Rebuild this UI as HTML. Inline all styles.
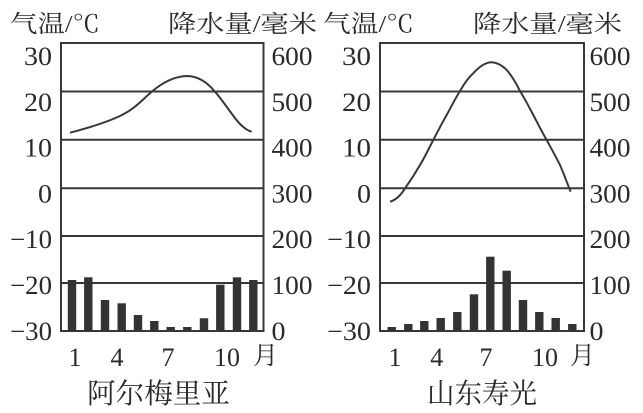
<!DOCTYPE html>
<html><head><meta charset="utf-8"><style>
html,body{margin:0;padding:0;background:#fff;}
svg{display:block;}
.n{font-family:"Liberation Serif",serif;font-size:26px;fill:#2a2a2a;}
.c{font-family:"Liberation Serif","Noto Serif CJK SC",serif;font-size:24px;fill:#2a2a2a;}
.s{font-family:"Liberation Serif","Noto Serif CJK SC",serif;font-size:28px;fill:#2a2a2a;}
</style></head><body>
<svg width="643" height="413" viewBox="0 0 643 413" xmlns="http://www.w3.org/2000/svg">
<rect width="643" height="413" fill="#fff"/>
<g stroke="#383838" stroke-width="2" fill="none">
<rect x="61" y="43" width="202.5" height="288"/>
<line x1="61" y1="91.5" x2="263.5" y2="91.5"/>
<line x1="61" y1="139.8" x2="263.5" y2="139.8"/>
<line x1="61" y1="188.2" x2="263.5" y2="188.2"/>
<line x1="61" y1="236" x2="263.5" y2="236"/>
<line x1="61" y1="283" x2="263.5" y2="283"/>
<rect x="380" y="43" width="204" height="288"/>
<line x1="380" y1="91.5" x2="584" y2="91.5"/>
<line x1="380" y1="139.8" x2="584" y2="139.8"/>
<line x1="380" y1="188.2" x2="584" y2="188.2"/>
<line x1="380" y1="236" x2="584" y2="236"/>
<line x1="380" y1="283" x2="584" y2="283"/>
</g>
<path d="M70,132.7 C88,128 105,123 120,116 C135,109 143,99 152,91.5 C162,83 173,76.5 186.7,76 C198,76 207,82 215,91.7 C224,102 234,118 240,124 C245,129 249,131 251.7,131.7" fill="none" stroke="#383838" stroke-width="2"/>
<path d="M390,201.7 C396,200 401,195 405,188.3 C411,180 416,172 420,165 C425,157 429,148 433.3,140 C438,131 442,123 446.7,115 C451,107 455,99 460,91 C464,84 468,78 473.3,73.3 C479,67 485,62.3 491.7,62.3 C497,62.5 501,65 505,68.3 C511,74 516,83 520,91 C525,99 529,107 533.3,115 C538,124 542,132 546.7,140 C551,148 556,157 560,165 C564,174 567,183 570.7,191.7" fill="none" stroke="#383838" stroke-width="2"/>
<g fill="#333">
<rect x="67.8" y="280" width="8.4" height="51"/>
<rect x="84.1" y="277.3" width="8.4" height="53.7"/>
<rect x="100.8" y="300" width="8.4" height="31"/>
<rect x="117.5" y="303.3" width="8.4" height="27.7"/>
<rect x="133.8" y="315" width="8.4" height="16"/>
<rect x="150.1" y="321" width="8.4" height="10"/>
<rect x="166.5" y="327" width="8.4" height="4"/>
<rect x="183.1" y="327" width="8.4" height="4"/>
<rect x="199.8" y="318.3" width="8.4" height="12.7"/>
<rect x="216.1" y="284.7" width="8.4" height="46.3"/>
<rect x="232.8" y="277.3" width="8.4" height="53.7"/>
<rect x="249.1" y="280" width="8.4" height="51"/>
<rect x="387.5" y="327" width="8.4" height="4"/>
<rect x="404.1" y="324" width="8.4" height="7"/>
<rect x="420.1" y="321" width="8.4" height="10"/>
<rect x="436.5" y="318" width="8.4" height="13"/>
<rect x="453.1" y="312" width="8.4" height="19"/>
<rect x="469.8" y="294.3" width="8.4" height="36.7"/>
<rect x="486.1" y="256.7" width="8.4" height="74.3"/>
<rect x="502.5" y="270.7" width="8.4" height="60.3"/>
<rect x="518.8" y="300" width="8.4" height="31"/>
<rect x="535.1" y="312" width="8.4" height="19"/>
<rect x="551.5" y="318" width="8.4" height="13"/>
<rect x="568.1" y="324" width="8.4" height="7"/>
</g>
<text class="c" x="10" y="32" textLength="90" lengthAdjust="spacingAndGlyphs">气温/℃</text>
<text class="c" x="168" y="32" textLength="149" lengthAdjust="spacingAndGlyphs">降水量/毫米</text>
<text class="c" x="323" y="32" textLength="91" lengthAdjust="spacingAndGlyphs">气温/℃</text>
<text class="c" x="473" y="32" textLength="149" lengthAdjust="spacingAndGlyphs">降水量/毫米</text>
<g class="n">
<text x="24" y="65" textLength="28" lengthAdjust="spacingAndGlyphs">30</text>
<text x="24" y="110.8" textLength="28" lengthAdjust="spacingAndGlyphs">20</text>
<text x="24" y="156.6" textLength="28" lengthAdjust="spacingAndGlyphs">10</text>
<text x="38" y="202.4" textLength="14" lengthAdjust="spacingAndGlyphs">0</text>
<text x="10" y="248.2" textLength="42" lengthAdjust="spacingAndGlyphs">−10</text>
<text x="10" y="294" textLength="42" lengthAdjust="spacingAndGlyphs">−20</text>
<text x="10" y="339.8" textLength="42" lengthAdjust="spacingAndGlyphs">−30</text>
<text x="342" y="65" textLength="29" lengthAdjust="spacingAndGlyphs">30</text>
<text x="342" y="110.8" textLength="29" lengthAdjust="spacingAndGlyphs">20</text>
<text x="342" y="156.6" textLength="29" lengthAdjust="spacingAndGlyphs">10</text>
<text x="357" y="202.4" textLength="14" lengthAdjust="spacingAndGlyphs">0</text>
<text x="327" y="248.2" textLength="44" lengthAdjust="spacingAndGlyphs">−10</text>
<text x="327" y="294" textLength="44" lengthAdjust="spacingAndGlyphs">−20</text>
<text x="327" y="339.8" textLength="44" lengthAdjust="spacingAndGlyphs">−30</text>
<text x="271.5" y="65" textLength="41" lengthAdjust="spacingAndGlyphs">600</text>
<text x="271.5" y="110.8" textLength="41" lengthAdjust="spacingAndGlyphs">500</text>
<text x="271.5" y="156.6" textLength="41" lengthAdjust="spacingAndGlyphs">400</text>
<text x="271.5" y="202.4" textLength="41" lengthAdjust="spacingAndGlyphs">300</text>
<text x="271.5" y="248.2" textLength="41" lengthAdjust="spacingAndGlyphs">200</text>
<text x="271.5" y="294" textLength="41" lengthAdjust="spacingAndGlyphs">100</text>
<text x="271.5" y="339.8" textLength="14" lengthAdjust="spacingAndGlyphs">0</text>
<text x="589.5" y="65" textLength="41" lengthAdjust="spacingAndGlyphs">600</text>
<text x="589.5" y="110.8" textLength="41" lengthAdjust="spacingAndGlyphs">500</text>
<text x="589.5" y="156.6" textLength="41" lengthAdjust="spacingAndGlyphs">400</text>
<text x="589.5" y="202.4" textLength="41" lengthAdjust="spacingAndGlyphs">300</text>
<text x="589.5" y="248.2" textLength="41" lengthAdjust="spacingAndGlyphs">200</text>
<text x="589.5" y="294" textLength="41" lengthAdjust="spacingAndGlyphs">100</text>
<text x="589.5" y="339.8" textLength="14" lengthAdjust="spacingAndGlyphs">0</text>
</g>
<g class="n" text-anchor="middle">
<text x="75" y="366">1</text>
<text x="117" y="366">4</text>
<text x="168" y="366">7</text>
<text x="227" y="366">10</text>
<text x="395" y="366">1</text>
<text x="436.7" y="366">4</text>
<text x="486" y="366">7</text>
<text x="545" y="366">10</text>
</g>
<text class="c" x="265.5" y="364" text-anchor="middle" style="font-size:25px">月</text>
<text class="c" x="582.5" y="364" text-anchor="middle" style="font-size:25px">月</text>
<text class="s" x="87" y="403" textLength="143" lengthAdjust="spacingAndGlyphs">阿尔梅里亚</text>
<text class="s" x="427" y="403" textLength="110" lengthAdjust="spacingAndGlyphs">山东寿光</text>
</svg>
</body></html>
